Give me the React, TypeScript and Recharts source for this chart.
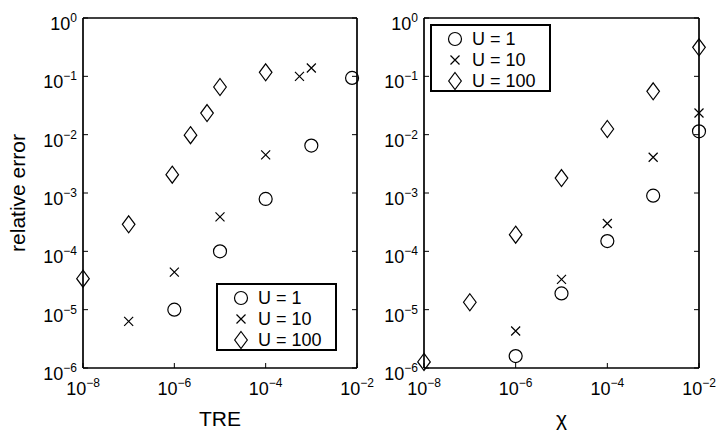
import React from 'react';
import { ScatterChart, Scatter, XAxis, YAxis, Legend } from 'recharts';

// left panel: relative error vs TRE
const treU1 = [
  { x: 1e-6, y: 1.0e-5 },
  { x: 1e-5, y: 1.0e-4 },
  { x: 1e-4, y: 7.9e-4 },
  { x: 1e-3, y: 6.5e-3 },
  { x: 7.8e-3, y: 0.094 },
];
const treU10 = [
  { x: 1e-7, y: 6.3e-6 },
  { x: 1e-6, y: 4.4e-5 },
  { x: 1e-5, y: 3.9e-4 },
  { x: 1e-4, y: 4.5e-3 },
  { x: 5.5e-4, y: 0.1 },
  { x: 1e-3, y: 0.139 },
];
const treU100 = [
  { x: 1e-8, y: 3.4e-5 },
  { x: 1e-7, y: 2.9e-4 },
  { x: 9e-7, y: 2.06e-3 },
  { x: 2.26e-6, y: 9.8e-3 },
  { x: 5.2e-6, y: 0.0235 },
  { x: 1e-5, y: 0.0656 },
  { x: 1e-4, y: 0.117 },
];

// right panel: relative error vs chi
const chiU1 = [
  { x: 1e-6, y: 1.6e-6 },
  { x: 1e-5, y: 1.9e-5 },
  { x: 1e-4, y: 1.5e-4 },
  { x: 1e-3, y: 9e-4 },
  { x: 1e-2, y: 0.0114 },
];
const chiU10 = [
  { x: 1e-6, y: 4.3e-6 },
  { x: 1e-5, y: 3.3e-5 },
  { x: 1e-4, y: 3.0e-4 },
  { x: 1e-3, y: 4.1e-3 },
  { x: 1e-2, y: 0.0235 },
];
const chiU100 = [
  { x: 1e-8, y: 1.27e-6 },
  { x: 1e-7, y: 1.34e-5 },
  { x: 1e-6, y: 1.93e-4 },
  { x: 1e-5, y: 1.8e-3 },
  { x: 1e-4, y: 0.0125 },
  { x: 1e-3, y: 0.0553 },
  { x: 1e-2, y: 0.314 },
];

const xTicks = [1e-8, 1e-6, 1e-4, 1e-2];
const yTicks = [1e-6, 1e-5, 1e-4, 1e-3, 1e-2, 1e-1, 1];
const legendNames = ['U = 1', 'U = 10', 'U = 100'];

const FONT = '"Liberation Sans", Arial, Helvetica, sans-serif';
const LINE = 1.7;

const expOf = (v: number) => {
  const e = Math.round(Math.log10(v));
  return e < 0 ? '\u2212' + -e : String(e);
};

const CircleMark = ({ cx, cy }: any) => (
  <circle cx={cx} cy={cy} r={6.5} fill="none" stroke="#000" strokeWidth={1.2} />
);
const CrossMark = ({ cx, cy }: any) => (
  <path
    d={`M${cx - 4.5},${cy - 4.5}L${cx + 4.5},${cy + 4.5}M${cx - 4.5},${cy + 4.5}L${cx + 4.5},${cy - 4.5}`}
    stroke="#000"
    strokeWidth={1.2}
    fill="none"
  />
);
const DiamondMark = ({ cx, cy }: any) => (
  <path
    d={`M${cx},${cy - 8.5}L${cx + 6.3},${cy}L${cx},${cy + 8.5}L${cx - 6.3},${cy}Z`}
    stroke="#000"
    strokeWidth={1.2}
    fill="none"
  />
);
const marks = [CircleMark, CrossMark, DiamondMark];

const BottomTick = ({ x, y, payload }: any) => (
  <g>
    <line x1={x} y1={y} x2={x} y2={y - 5} stroke="#000" strokeWidth={1} />
    <text x={x} y={y + 27} textAnchor="middle" fontSize={18} fontFamily={FONT} fill="#000">
      10<tspan dy={-8} fontSize={12}>{expOf(payload.value)}</tspan>
    </text>
  </g>
);
const TopTick = ({ x, y }: any) => (
  <line x1={x} y1={y} x2={x} y2={y + 5} stroke="#000" strokeWidth={1} />
);
const LeftTick = ({ x, y, payload }: any) => (
  <g>
    <line x1={x} y1={y} x2={x + 5} y2={y} stroke="#000" strokeWidth={1} />
    <text x={x - 6} y={y + 12} textAnchor="end" fontSize={18} fontFamily={FONT} fill="#000">
      10<tspan dy={-8} fontSize={12}>{expOf(payload.value)}</tspan>
    </text>
  </g>
);
const RightTick = ({ x, y }: any) => (
  <line x1={x} y1={y} x2={x - 5} y2={y} stroke="#000" strokeWidth={1} />
);

const LegendBox = () => (
  <svg width={121} height={68} style={{ display: 'block' }}>
    <rect x={1} y={1} width={119} height={66} fill="#fff" stroke="#000" strokeWidth={2} />
    {legendNames.map((name, i) => {
      const Mark = marks[i];
      const cy = 15 + i * 21;
      return (
        <g key={name}>
          <Mark cx={25} cy={cy} />
          <text x={42} y={cy + 6} fontSize={18} fontFamily={FONT} fill="#000">
            {name}
          </text>
        </g>
      );
    })}
  </svg>
);

const xTitle = (text: string) => (props: any) => {
  const vb = props.viewBox;
  return (
    <text x={vb.x + vb.width / 2} y={vb.y + 58} textAnchor="middle" fontSize={21} fontFamily={FONT} fill="#000">
      {text}
    </text>
  );
};
const yTitle = (props: any) => {
  const vb = props.viewBox;
  const cx = vb.x + vb.width - 58;
  const cy = vb.y + vb.height / 2;
  return (
    <text
      x={cx}
      y={cy}
      transform={`rotate(-90, ${cx}, ${cy})`}
      textAnchor="middle"
      fontSize={21}
      fontFamily={FONT}
      fill="#000"
    >
      relative error
    </text>
  );
};

type PanelProps = {
  margin: { top: number; right: number; bottom: number; left: number };
  series: Array<Array<{ x: number; y: number }>>;
  xLabel: string;
  showYLabel: boolean;
  legendPos: { left: number; top: number };
};

function Panel({ margin, series, xLabel, showYLabel, legendPos }: PanelProps) {
  return (
    <div style={{ position: 'absolute', left: 0, top: 0 }}>
      <ScatterChart width={718} height={431} margin={margin}>
        <XAxis
          xAxisId="b"
          type="number"
          dataKey="x"
          scale="log"
          domain={[1e-8, 1e-2]}
          ticks={xTicks}
          interval={0}
          height={1}
          tickSize={0}
          tickMargin={0}
          tickLine={false}
          tick={<BottomTick />}
          axisLine={{ stroke: '#000', strokeWidth: LINE }}
          label={xTitle(xLabel)}
        />
        <XAxis
          xAxisId="t"
          orientation="top"
          type="number"
          scale="log"
          domain={[1e-8, 1e-2]}
          allowDataOverflow
          ticks={xTicks}
          interval={0}
          height={1}
          tickSize={0}
          tickMargin={0}
          tickLine={false}
          tick={<TopTick />}
          axisLine={{ stroke: '#000', strokeWidth: LINE }}
        />
        <YAxis
          yAxisId="l"
          type="number"
          dataKey="y"
          scale="log"
          domain={[1e-6, 1]}
          ticks={yTicks}
          interval={0}
          width={1}
          tickSize={0}
          tickMargin={0}
          tickLine={false}
          tick={<LeftTick />}
          axisLine={{ stroke: '#000', strokeWidth: LINE }}
          label={showYLabel ? yTitle : undefined}
        />
        <YAxis
          yAxisId="r"
          orientation="right"
          type="number"
          scale="log"
          domain={[1e-6, 1]}
          allowDataOverflow
          ticks={yTicks}
          interval={0}
          width={1}
          tickSize={0}
          tickMargin={0}
          tickLine={false}
          tick={<RightTick />}
          axisLine={{ stroke: '#000', strokeWidth: LINE }}
        />
        {series.map((data, i) => (
          <Scatter
            key={legendNames[i]}
            name={legendNames[i]}
            data={data}
            xAxisId="b"
            yAxisId="l"
            shape={marks[i]}
            isAnimationActive={false}
          />
        ))}
        <Legend
          layout="vertical"
          align="center"
          verticalAlign="middle"
          wrapperStyle={{ left: legendPos.left, top: legendPos.top, width: 121, height: 68 }}
          content={<LegendBox />}
        />
      </ScatterChart>
    </div>
  );
}

export default function App() {
  return (
    <div style={{ position: 'absolute', left: 0, top: 0, width: 718, height: 431, background: '#fff' }}>
      <Panel
        margin={{ top: 17, right: 360, bottom: 62, left: 82 }}
        series={[treU1, treU10, treU100]}
        xLabel="TRE"
        showYLabel
        legendPos={{ left: 216, top: 283 }}
      />
      <Panel
        margin={{ top: 17, right: 18, bottom: 62, left: 423 }}
        series={[chiU1, chiU10, chiU100]}
        xLabel={'\u03c7'}
        showYLabel={false}
        legendPos={{ left: 430, top: 24 }}
      />
    </div>
  );
}
